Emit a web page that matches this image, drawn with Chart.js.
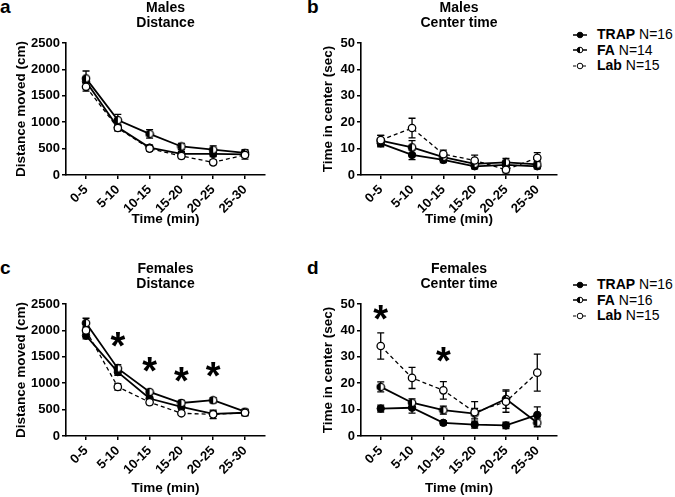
<!DOCTYPE html>
<html>
<head>
<meta charset="utf-8">
<script src="https://cdn.jsdelivr.net/npm/chart.js@4.4.1/dist/chart.umd.min.js"></script>
<style>
  html, body { margin: 0; padding: 0; background: #fff; }
  body { width: 675px; height: 497px; position: relative; overflow: hidden;
         font-family: "Liberation Sans", Arial, sans-serif; color: #000; }
  .box { position: absolute; }
  .letter { position: absolute; font-weight: bold; font-size: 19px; line-height: 19px; }
  .legend { position: absolute; left: 573px; font-size: 14px; }
  .legend .row { height: 15.5px; line-height: 15.5px; display: flex; align-items: center; white-space: nowrap; }
  .legend svg { width: 14px; height: 10px; margin-right: 10px; flex: none; }
</style>
</head>
<body>
<div class="letter" style="left:0;top:-3px">a</div>
<div class="letter" style="left:307px;top:-3px">b</div>
<div class="letter" style="left:0;top:258px">c</div>
<div class="letter" style="left:307px;top:258px">d</div>

<div class="box" style="left:0;top:0"><canvas id="chartA" width="275" height="227"></canvas></div>
<div class="box" style="left:311px;top:0"><canvas id="chartB" width="256" height="227"></canvas></div>
<div class="box" style="left:0;top:261px"><canvas id="chartC" width="275" height="235"></canvas></div>
<div class="box" style="left:311px;top:261px"><canvas id="chartD" width="256" height="235"></canvas></div>

<div class="legend" id="legM" style="top:27px"></div>
<div class="legend" id="legF" style="top:277px"></div>

<script>
// ---- data ----
const timeLabels = ["0-5", "5-10", "10-15", "15-20", "20-25", "25-30"];
const groups = ["TRAP", "FA", "Lab"];
const malesN = [16, 14, 15];
const femalesN = [16, 16, 15];

// a) males, distance moved (cm)
const maleDistTrap    = [1770, 905, 520, 400, 400, 390];
const maleDistTrapErr = [80, 60, 45, 45, 50, 50];
const maleDistFa      = [1830, 1040, 780, 540, 480, 420];
const maleDistFaErr   = [140, 110, 80, 60, 70, 60];
const maleDistLab     = [1670, 890, 500, 360, 240, 380];
const maleDistLabErr  = [80, 60, 45, 50, 45, 80];

// b) males, time in center (sec)
const maleCtrTrap    = [12, 7.6, 5.7, 3.3, 3.8, 3.3];
const maleCtrTrapErr = [1.3, 1.8, 1.0, 1.0, 1.2, 1.0];
const maleCtrFa      = [13, 10.5, 6.8, 4.2, 4.8, 4.0];
const maleCtrFaErr   = [2.0, 2.5, 1.3, 1.2, 1.5, 1.2];
const maleCtrLab     = [13.2, 17.8, 7.9, 5.5, 2.0, 6.5];
const maleCtrLabErr  = [1.8, 3.7, 1.5, 2.0, 1.2, 2.0];

// c) females, distance moved (cm)
const femDistTrap    = [1900, 1210, 710, 550, 420, 440];
const femDistTrapErr = [60, 60, 40, 40, 50, 50];
const femDistFa      = [2140, 1280, 835, 625, 678, 460];
const femDistFaErr   = [90, 70, 40, 50, 50, 50];
const femDistLab     = [2000, 930, 640, 430, 410, 440];
const femDistLabErr  = [70, 60, 45, 35, 80, 60];
const femDistStarAt  = [1, 2, 3, 4];
const femDistStarY   = [1870, 1400, 1200, 1305];

// d) females, time in center (sec)
const femCtrTrap    = [10.4, 10.7, 5.0, 4.3, 4.0, 8.0];
const femCtrTrapErr = [1.3, 2.0, 0.8, 1.3, 1.2, 3.0];
const femCtrFa      = [18.6, 12.6, 9.8, 8.5, 14.0, 5.0];
const femCtrFaErr   = [1.9, 1.5, 1.5, 2.0, 3.5, 1.5];
const femCtrLab     = [34.1, 22.0, 17.3, 9.0, 13.0, 24.0];
const femCtrLabErr  = [5.0, 4.0, 3.3, 4.0, 4.0, 7.0];
const femCtrStarAt  = [0, 2];
const femCtrStarY   = [47.5, 31.8];

// ---- helpers ----
const FONT = '"Liberation Sans", Arial, sans-serif';
Chart.defaults.font.family = FONT;
Chart.defaults.color = "#000";

function halfDot() {
  const c = document.createElement("canvas");
  c.width = 10; c.height = 10;
  const g = c.getContext("2d");
  g.beginPath(); g.arc(5, 5, 3.7, 0, Math.PI * 2); g.fillStyle = "#fff"; g.fill();
  g.beginPath(); g.moveTo(5, 5); g.arc(5, 5, 3.7, Math.PI / 2, Math.PI * 1.5); g.closePath();
  g.fillStyle = "#000"; g.fill();
  g.beginPath(); g.arc(5, 5, 3.7, 0, Math.PI * 2); g.lineWidth = 1.3; g.strokeStyle = "#000"; g.stroke();
  return c;
}
const FA_DOT = halfDot();

const toXY = (arr) => arr.map((v, i) => ({ x: i, y: v }));

// error bars drawn through the y scale
const errorBars = {
  id: "errorBars",
  beforeDatasetsDraw(chart) {
    const { ctx } = chart;
    const ys = chart.scales.y;
    chart.data.datasets.forEach((ds, i) => {
      if (!ds.errors) return;
      const meta = chart.getDatasetMeta(i);
      ctx.save();
      ctx.strokeStyle = "#000";
      ctx.lineWidth = 1.3;
      meta.data.forEach((pt, j) => {
        const v = ds.data[j].y, e = ds.errors[j];
        const top = ys.getPixelForValue(v + e), bot = ys.getPixelForValue(v - e);
        ctx.beginPath();
        ctx.moveTo(pt.x, top); ctx.lineTo(pt.x, bot);
        ctx.moveTo(pt.x - 3.5, top); ctx.lineTo(pt.x + 3.5, top);
        ctx.moveTo(pt.x - 3.5, bot); ctx.lineTo(pt.x + 3.5, bot);
        ctx.stroke();
      });
      ctx.restore();
    });
  }
};

// significance asterisks
const sigStars = {
  id: "sigStars",
  afterDatasetsDraw(chart, args, opts) {
    if (!opts.at) return;
    const { ctx } = chart;
    const { x, y } = chart.scales;
    const size = 38;
    ctx.save();
    ctx.font = `bold ${size}px ${FONT}`;
    ctx.fillStyle = "#000";
    ctx.textAlign = "center";
    ctx.textBaseline = "alphabetic";
    opts.at.forEach((c, k) => {
      ctx.fillText("*", x.getPixelForValue(c), y.getPixelForValue(opts.y[k]) + 0.57 * size);
    });
    ctx.restore();
  }
};

function makePanel(id, o) {
  const datasets = [
    { label: "TRAP", data: toXY(o.trap), errors: o.trapErr, order: 2,
      borderColor: "#000", backgroundColor: "#000", borderWidth: 1.8,
      pointStyle: "circle", pointRadius: 3.7, pointBorderWidth: 1, pointBackgroundColor: "#000" },
    { label: "FA", data: toXY(o.fa), errors: o.faErr, order: 1,
      borderColor: "#000", backgroundColor: "#000", borderWidth: 1.8,
      pointStyle: FA_DOT, pointRadius: 3.7 },
    { label: "Lab", data: toXY(o.lab), errors: o.labErr, order: 0,
      borderColor: "#000", backgroundColor: "#fff", borderWidth: 1.3, borderDash: [4, 3],
      pointStyle: "circle", pointRadius: 3.7, pointBorderWidth: 1.3, pointBackgroundColor: "#fff" }
  ];
  return new Chart(document.getElementById(id), {
    type: "line",
    data: { datasets },
    plugins: [errorBars, sigStars],
    options: {
      responsive: false,
      animation: false,
      layout: { padding: { left: 0, right: 10, top: 0, bottom: 0 } },
      elements: { line: { tension: 0 } },
      plugins: {
        legend: { display: false },
        tooltip: { enabled: false },
        title: {
          display: true, fullSize: false, text: o.title, color: "#000",
          font: { size: 14, weight: "bold", lineHeight: 1.1 },
          padding: { top: 0, bottom: 12.2 }
        },
        sigStars: { at: o.starAt, y: o.starY }
      },
      scales: {
        x: {
          type: "linear", min: -0.63, max: 5.63,
          afterBuildTicks: (s) => { s.ticks = timeLabels.map((_, i) => ({ value: i })); },
          afterFit: (s) => { s.height = o.xh; },
          ticks: {
            callback: (v) => timeLabels[v], autoSkip: false,
            minRotation: 45, maxRotation: 45, padding: 3,
            font: { size: 13, weight: "bold" }, color: "#000"
          },
          grid: { display: true, drawOnChartArea: false, tickLength: 4, color: "#000", lineWidth: 1.5 },
          border: { display: true, color: "#000", width: 1.6 },
          title: { display: true, text: "Time (min)", color: "#000",
                   font: { size: 13.5, weight: "bold", lineHeight: 1.2 }, padding: { top: 0, bottom: 0 } }
        },
        y: {
          min: 0, max: o.ymax,
          afterFit: (s) => { s.width = o.yw; },
          ticks: { stepSize: o.step, padding: 2, callback: (v) => String(v),
                   font: { size: 13, weight: "bold" }, color: "#000" },
          grid: { display: true, drawOnChartArea: false, tickLength: 4, color: "#000", lineWidth: 1.5 },
          border: { display: true, color: "#000", width: 1.6 },
          title: { display: true, text: o.ytitle, color: "#000",
                   font: { size: 13.5, weight: "bold", lineHeight: 1.2 }, padding: { top: o.ytp, bottom: 0 } }
        }
      }
    }
  });
}

makePanel("chartA", {
  title: ["Males", "Distance"], ytitle: "Distance moved (cm)", ymax: 2500, step: 500,
  yw: 66, ytp: 13.6, xh: 52,
  trap: maleDistTrap, trapErr: maleDistTrapErr, fa: maleDistFa, faErr: maleDistFaErr,
  lab: maleDistLab, labErr: maleDistLabErr
});
makePanel("chartB", {
  title: ["Males", "Center time"], ytitle: "Time in center (sec)", ymax: 50, step: 10,
  yw: 50, ytp: 8.9, xh: 52,
  trap: maleCtrTrap, trapErr: maleCtrTrapErr, fa: maleCtrFa, faErr: maleCtrFaErr,
  lab: maleCtrLab, labErr: maleCtrLabErr
});
makePanel("chartC", {
  title: ["Females", "Distance"], ytitle: "Distance moved (cm)", ymax: 2500, step: 500,
  yw: 66, ytp: 13.6, xh: 60,
  trap: femDistTrap, trapErr: femDistTrapErr, fa: femDistFa, faErr: femDistFaErr,
  lab: femDistLab, labErr: femDistLabErr, starAt: femDistStarAt, starY: femDistStarY
});
makePanel("chartD", {
  title: ["Females", "Center time"], ytitle: "Time in center (sec)", ymax: 50, step: 10,
  yw: 50, ytp: 8.9, xh: 60,
  trap: femCtrTrap, trapErr: femCtrTrapErr, fa: femCtrFa, faErr: femCtrFaErr,
  lab: femCtrLab, labErr: femCtrLabErr, starAt: femCtrStarAt, starY: femCtrStarY
});

// ---- html legends ----
const markerSvg = [
  '<svg viewBox="0 0 14 10"><line x1="0" y1="5" x2="14" y2="5" stroke="#000" stroke-width="1.5"/><circle cx="7" cy="5" r="2.8" fill="#000" stroke="#000" stroke-width="1"/></svg>',
  '<svg viewBox="0 0 14 10"><line x1="0" y1="5" x2="14" y2="5" stroke="#000" stroke-width="1.5"/><circle cx="7" cy="5" r="2.8" fill="#fff" stroke="#000" stroke-width="1"/><path d="M7 2.2 A2.8 2.8 0 0 0 7 7.8 Z" fill="#000"/></svg>',
  '<svg viewBox="0 0 14 10"><line x1="0" y1="5" x2="14" y2="5" stroke="#000" stroke-width="1.1" stroke-dasharray="3 2"/><circle cx="7" cy="5" r="2.8" fill="#fff" stroke="#000" stroke-width="1"/></svg>'
];
function fillLegend(id, ns) {
  document.getElementById(id).innerHTML = groups.map((g, i) =>
    `<div class="row">${markerSvg[i]}<b>${g}</b>&nbsp;N=${ns[i]}</div>`).join("");
}
fillLegend("legM", malesN);
fillLegend("legF", femalesN);
</script>
</body>
</html>
